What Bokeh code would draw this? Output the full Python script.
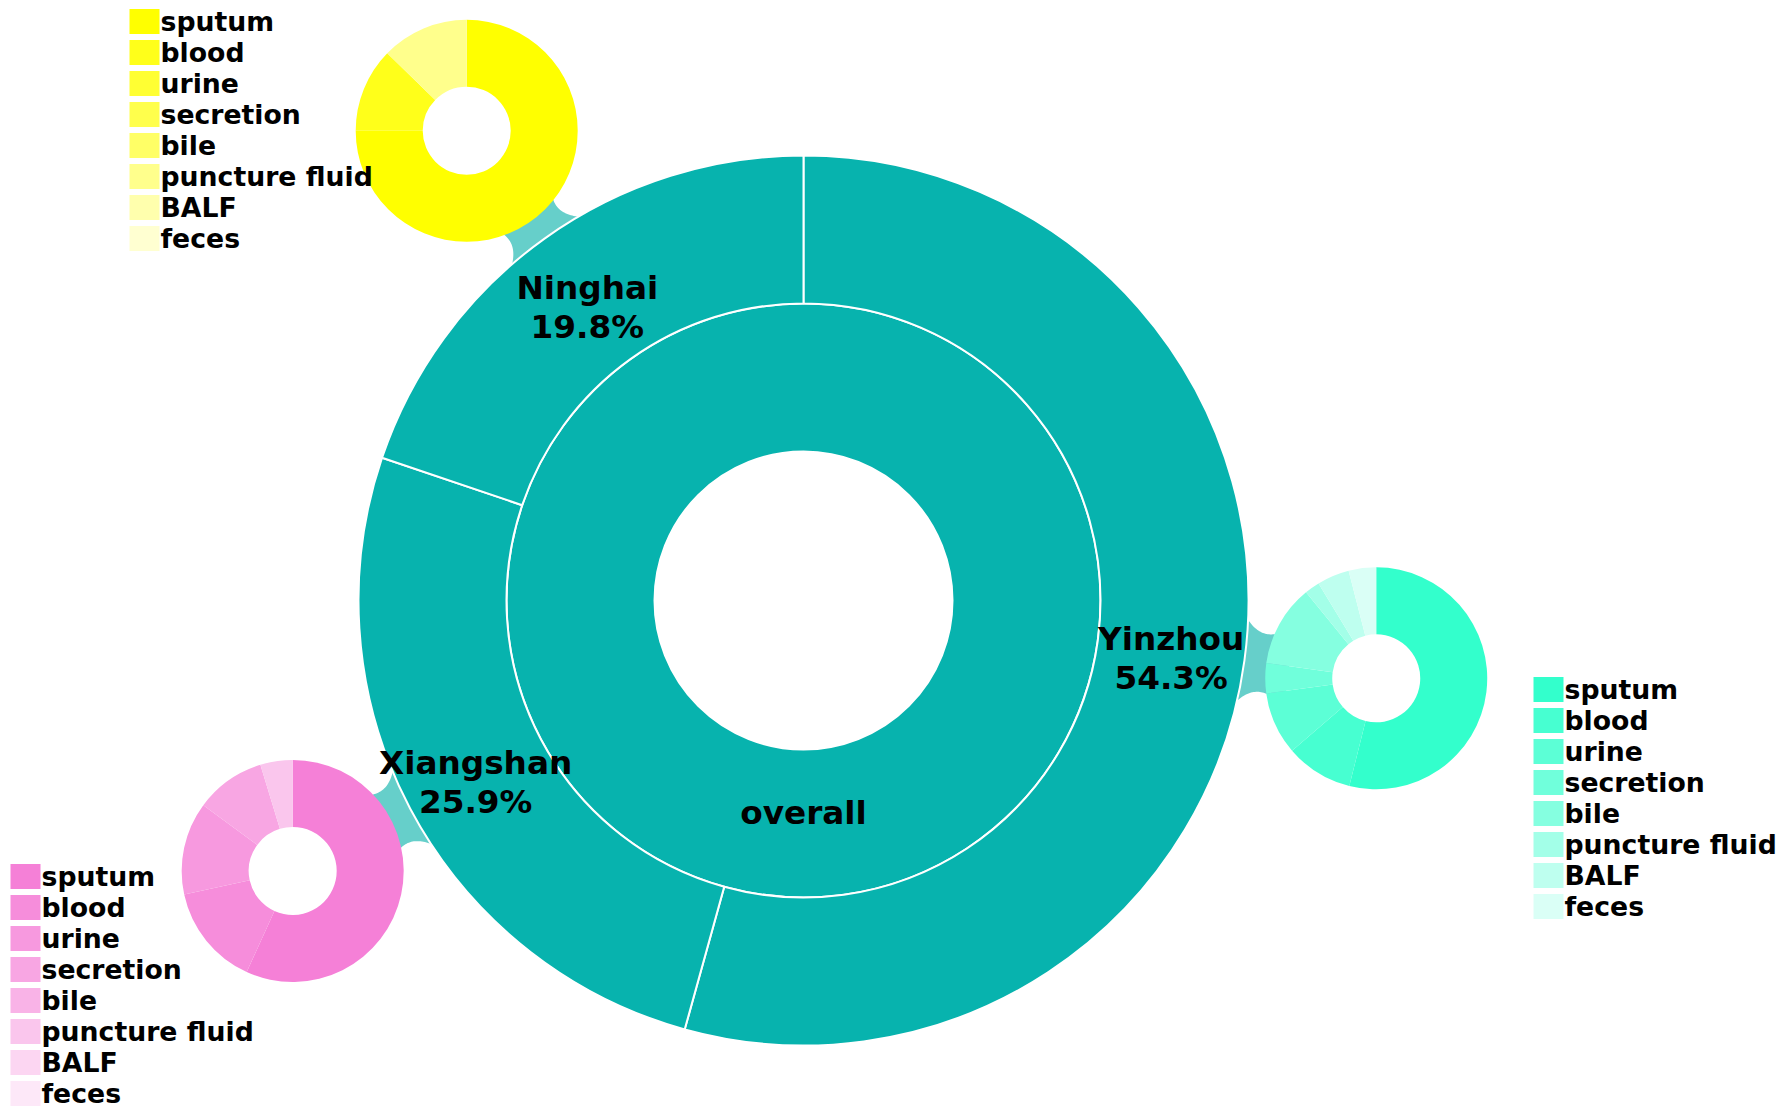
import numpy as np
from bokeh.plotting import figure
from bokeh.models import Range1d
from bokeh.embed import file_html
from bokeh.resources import INLINE
from bokeh.core.properties import value

# ---- data -------------------------------------------------------------
districts = ["Yinzhou", "Xiangshan", "Ninghai"]
district_share = [54.3, 25.9, 19.8]          # % of all isolates
specimens = ["sputum", "blood", "urine", "secretion", "bile",
             "puncture fluid", "BALF", "feces"]
yinzhou_mix = [53.9, 9.8, 9.1, 4.4, 11.9, 2.2, 4.7, 4.0]
xiangshan_mix = [56.8, 14.8, 13.5, 10.2, 0.0, 4.7, 0.0, 0.0]
ninghai_mix = [75.0, 12.3, 0.0, 0.0, 0.0, 12.7, 0.0, 0.0]
specimen_mix = [yinzhou_mix, xiangshan_mix, ninghai_mix]
overall_label = "overall"

# ---- styling / layout ---------------------------------------------------
W, H = 1784, 1114
FONT = value("DejaVu Sans")
TEAL = "#07B3AE"
LINK = "#66CFCA"
district_colors = ["#33FFCC", "#F580D7", "#FFFF00"]
shade = [1.0, 0.9, 0.8, 0.7, 0.6, 0.45, 0.32, 0.18]

CX, CY = 803, H - 600          # centre of the main ring
R_HOLE, R_MID, R_OUT = 149, 297, 445
SAT_DIST, SAT_R, SAT_HOLE = 578, 111, 44
LABEL_R = (R_MID + R_OUT) / 2

# legend anchors: (left edge of swatch, centre of first row) in screen px
legend_anchor = [(1533, 689), (10, 876), (129, 21)]
ROW = 31


def tint(hex_color, f):
    r, g, b = (int(hex_color[i:i + 2], 16) for i in (1, 3, 5))
    mix = lambda c: int(round(255 - f * (255 - c)))
    return "#{:02X}{:02X}{:02X}".format(mix(r), mix(g), mix(b))


def clockwise(vals):
    """Start/end angles (radians) for slices laid out clockwise from 12 o'clock."""
    tot = float(sum(vals))
    cum = np.concatenate([[0.0], np.cumsum(vals)]) / tot
    a = np.pi / 2 - 2 * np.pi * cum
    return a[1:], a[:-1]          # bokeh draws anticlockwise: start=end of slice


p = figure(width=W, height=H, x_range=Range1d(0, W), y_range=Range1d(0, H),
           output_backend="svg", toolbar_location=None,
           x_axis_location=None, y_axis_location=None, min_border=0)
p.grid.visible = False
p.outline_line_color = None
p.background_fill_color = "white"
p.border_fill_color = "white"

starts, ends = clockwise(district_share)
mids = (starts + ends) / 2

# connector bands from the main ring out to each district ring
def connector(ang):
    ux, uy = np.cos(ang), np.sin(ang)
    px, py = -uy, ux
    t = np.linspace(0, 1, 24)
    p0, p1, p2 = np.array([443, 41]), np.array([456, 26]), np.array([471, 30])
    curve = ((1 - t) ** 2)[:, None] * p0 + (2 * (1 - t) * t)[:, None] * p1 + (t ** 2)[:, None] * p2
    side = np.vstack([[425, 41], curve, [490, 30]])
    pts = np.vstack([side * [1, -1], (side * [1, 1])[::-1]])
    xs = CX + pts[:, 0] * ux + pts[:, 1] * px
    ys = CY + pts[:, 0] * uy + pts[:, 1] * py
    return list(xs), list(ys)

links = [connector(a) for a in mids]
p.patches([l[0] for l in links], [l[1] for l in links],
          fill_color=LINK, line_color=None)

# inner "overall" ring
p.annulus(x=[CX], y=[CY], inner_radius=R_HOLE, outer_radius=R_MID,
          fill_color=TEAL, line_color="white", line_width=2)

# outer district ring
p.annular_wedge(x=[CX] * 3, y=[CY] * 3, inner_radius=R_MID, outer_radius=R_OUT,
                start_angle=list(starts), end_angle=list(ends),
                fill_color=TEAL, line_color="white", line_width=2)

# district rings broken down by specimen type
for k, mix in enumerate(specimen_mix):
    sx = CX + SAT_DIST * np.cos(mids[k])
    sy = CY + SAT_DIST * np.sin(mids[k])
    s0, s1 = clockwise(mix)
    cols = [tint(district_colors[k], f) for f in shade]
    keep = [i for i, v in enumerate(mix) if v > 0]
    p.annular_wedge(x=[sx] * len(keep), y=[sy] * len(keep),
                    inner_radius=SAT_HOLE, outer_radius=SAT_R,
                    start_angle=[s0[i] for i in keep], end_angle=[s1[i] for i in keep],
                    fill_color=[cols[i] for i in keep], line_color=None)

    # legend
    lx, ly = legend_anchor[k]
    ys = [H - (ly + ROW * i) for i in range(len(specimens))]
    p.rect(x=[lx + 15] * len(specimens), y=ys, width=30, height=25,
           fill_color=cols, line_color=None)
    p.text(x=[lx + 31] * len(specimens), y=ys, text=specimens,
           text_font=FONT, text_font_style="bold", text_font_size="26.7px",
           text_align="left", text_baseline="middle", text_color="black")

# district labels
lab_x = list(CX + LABEL_R * np.cos(mids))
lab_y = list(CY + LABEL_R * np.sin(mids))
p.text(x=lab_x, y=lab_y, text=districts, y_offset=-11,
       text_font=FONT, text_font_style="bold", text_font_size="32.7px",
       text_align="center", text_baseline="middle", text_color="black")
p.text(x=lab_x, y=lab_y, text=["{:.1f}%".format(v) for v in district_share],
       y_offset=28,
       text_font=FONT, text_font_style="bold", text_font_size="32.7px",
       text_align="center", text_baseline="middle", text_color="black")
p.text(x=[CX], y=[CY - (R_HOLE + R_MID) / 2], text=[overall_label], y_offset=-11,
       text_font=FONT, text_font_style="bold", text_font_size="32.7px",
       text_align="center", text_baseline="middle", text_color="black")

open("out.html", "w").write(file_html(p, INLINE))
